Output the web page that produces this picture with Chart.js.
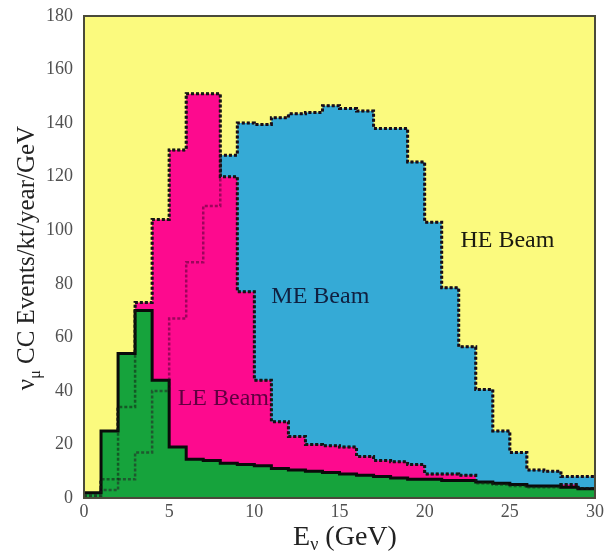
<!DOCTYPE html>
<html>
<head>
<meta charset="utf-8">
<script src="https://cdn.jsdelivr.net/npm/chart.js@4/dist/chart.umd.min.js"></script>
<style>
  html, body { margin: 0; padding: 0; background: #ffffff; }
  canvas { display: block; }
</style>
</head>
<body>
<canvas id="c" width="604" height="553"></canvas>
<script>
// Bin edges (GeV)
const binEdges = [0,1,2,3,4,5,6,7,8,9,10,11,12,13,14,15,16,17,18,19,20,21,22,23,24,25,26,27,28,29,30];
// Event rates per 1-GeV bin (nu_mu CC events/kt/year/GeV)
const heBeam = [1, 3, 7, 17, 40, 67, 88, 109, 128, 140, 139.5, 142, 143.5, 144, 146.5, 145.5, 144.5, 138, 138, 125.5, 103, 78.5, 56.5, 40.5, 25, 17, 10.5, 10, 8, 8];
const meBeam = [0.5, 7, 34, 73, 104, 130, 151, 151, 120, 77, 44, 28.5, 23, 20, 19.5, 19, 15.5, 14, 13.5, 12.5, 9, 9, 8.5, 5.5, 5, 4.5, 4, 4, 5, 3.5];
const leBeam = [2, 25, 54, 70, 44, 19, 14.5, 14, 13, 12.5, 12, 11, 10.5, 10, 9.5, 9, 8.5, 8, 7.5, 7, 7, 6.5, 6.5, 6, 5.5, 5, 4.5, 4.5, 4, 3.5];
const xTicks = [0, 5, 10, 15, 20, 25, 30];
const yTicks = [0, 20, 40, 60, 80, 100, 120, 140, 160, 180];
const beamLabels = [
  { text: 'HE Beam', x: 22.1, y: 96, color: '#1a1a10' },
  { text: 'ME Beam', x: 11.0, y: 75, color: '#102040' },
  { text: 'LE Beam', x: 5.5, y: 37, color: '#600040' }
];

function steps(vals) {
  const pts = vals.map((v, i) => ({ x: binEdges[i], y: v }));
  pts.push({ x: binEdges[binEdges.length - 1], y: vals[vals.length - 1] });
  return pts;
}

const SERIF = '"Liberation Serif", "DejaVu Serif", serif';

const decor = {
  id: 'decor',
  beforeDraw(chart) {
    const { ctx, chartArea: a } = chart;
    ctx.save();
    ctx.fillStyle = '#fbfa7e';
    ctx.fillRect(a.left, a.top, a.right - a.left, a.bottom - a.top);
    ctx.restore();
  },
  afterDraw(chart) {
    const { ctx, chartArea: a, scales } = chart;
    ctx.save();
    // frame
    ctx.strokeStyle = '#4a4a3a';
    ctx.lineWidth = 2;
    ctx.strokeRect(a.left, a.top, a.right - a.left, a.bottom - a.top);
    // beam labels
    ctx.font = '24px ' + SERIF;
    ctx.textBaseline = 'middle';
    ctx.textAlign = 'left';
    beamLabels.forEach(b => {
      ctx.fillStyle = b.color;
      ctx.fillText(b.text, scales.x.getPixelForValue(b.x), scales.y.getPixelForValue(b.y));
    });
    // x title: E_nu (GeV)
    ctx.fillStyle = '#222';
    ctx.textBaseline = 'alphabetic';
    let big = '28px ' + SERIF, small = '18px ' + SERIF;
    ctx.font = big; const wE = ctx.measureText('E').width; const wR = ctx.measureText(' (GeV)').width;
    ctx.font = small; const wn = ctx.measureText('ν').width;
    let x0 = 345 - (wE + wn + wR) / 2, by = 545;
    ctx.font = big; ctx.fillText('E', x0, by);
    ctx.font = small; ctx.fillText('ν', x0 + wE, by + 5);
    ctx.font = big; ctx.fillText(' (GeV)', x0 + wE + wn, by);
    // y title: nu_mu CC Events/kt/year/GeV
    big = '25px ' + SERIF; small = '16px ' + SERIF;
    ctx.translate(34, 258);
    ctx.rotate(-Math.PI / 2);
    ctx.font = big; const wv = ctx.measureText('ν').width; const wT = ctx.measureText(' CC Events/kt/year/GeV').width;
    ctx.font = small; const wm = ctx.measureText('μ').width;
    let s = -(wv + wm + wT) / 2;
    ctx.font = big; ctx.fillText('ν', s, 0);
    ctx.font = small; ctx.fillText('μ', s + wv, 6);
    ctx.font = big; ctx.fillText(' CC Events/kt/year/GeV', s + wv + wm, 0);
    ctx.restore();
  }
};

const dotted = [3, 2];
const common = { pointRadius: 0, stepped: 'before', tension: 0 };

new Chart(document.getElementById('c'), {
  type: 'line',
  data: {
    datasets: [
      Object.assign({ label: 'ME outline', data: steps(meBeam), borderColor: 'rgba(20,30,20,0.55)', borderWidth: 2.5, borderDash: dotted, fill: false }, common),
      Object.assign({ label: 'HE outline', data: steps(heBeam), borderColor: 'rgba(40,0,30,0.45)', borderWidth: 2.5, borderDash: dotted, fill: false }, common),
      Object.assign({ label: 'LE Beam', data: steps(leBeam), borderColor: '#0a0a0a', borderWidth: 3, backgroundColor: '#16a33c', fill: 'origin' }, common),
      Object.assign({ label: 'ME Beam', data: steps(meBeam), borderColor: '#151015', borderWidth: 3, borderDash: dotted, backgroundColor: '#fd0a8e', fill: 'origin' }, common),
      Object.assign({ label: 'HE Beam', data: steps(heBeam), borderColor: '#101515', borderWidth: 3, borderDash: dotted, backgroundColor: '#35aad6', fill: 'origin' }, common)
    ]
  },
  options: {
    responsive: false,
    animation: false,
    layout: { padding: { top: 16, right: 9, left: 0, bottom: 0 } },
    plugins: { legend: { display: false }, tooltip: { enabled: false } },
    scales: {
      x: {
        type: 'linear', min: 0, max: 30,
        afterBuildTicks(s) { s.ticks = xTicks.map(v => ({ value: v })); },
        afterFit(s) { s.height = 55; s.paddingLeft = 0; s.paddingRight = 0; },
        grid: { display: false, drawTicks: false },
        border: { display: false },
        ticks: { color: '#505050', font: { family: SERIF, size: 18 }, padding: 3, maxRotation: 0, autoSkip: false }
      },
      y: {
        type: 'linear', min: 0, max: 180,
        afterBuildTicks(s) { s.ticks = yTicks.map(v => ({ value: v })); },
        afterFit(s) { s.width = 84; s.paddingTop = 0; s.paddingBottom = 0; },
        grid: { display: false, drawTicks: false },
        border: { display: false },
        ticks: { color: '#505050', font: { family: SERIF, size: 18 }, padding: 11, autoSkip: false }
      }
    }
  },
  plugins: [decor]
});
</script>
</body>
</html>
